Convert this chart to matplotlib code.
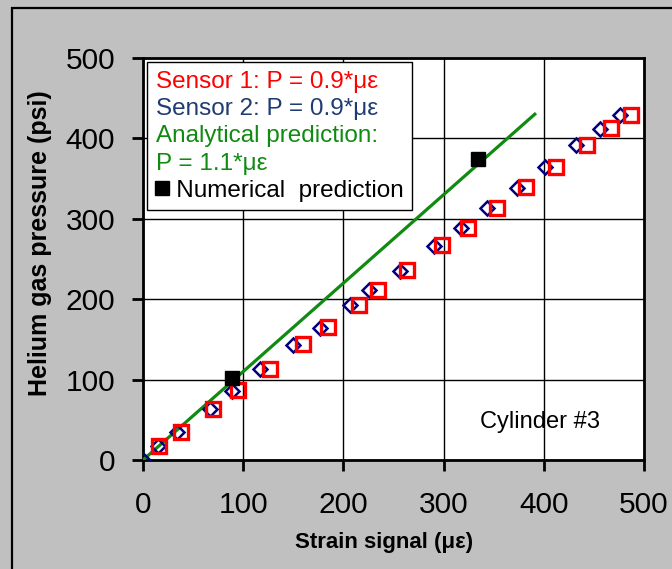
import numpy as np
import matplotlib
matplotlib.use("Agg")
import matplotlib.pyplot as plt
from matplotlib.lines import Line2D
from matplotlib.patches import Rectangle

plt.rcParams['font.family'] = ['Liberation Sans', 'DejaVu Sans']

# sensor 1 (red squares)
s1_strain = [16, 38, 70, 95, 127, 160, 185, 216, 235, 263, 298, 324, 353, 382, 412, 443, 467, 487]
s1_pressure = [18, 35, 64, 87, 113, 144, 165, 193, 211, 236, 267, 289, 314, 339, 365, 392, 413, 429]

# sensor 2 (blue diamonds)
s2_strain = [0, 15, 34, 67, 89, 117, 150, 177, 207, 226, 256, 290, 317, 343, 373, 401, 432, 456, 476]
s2_pressure = [0, 17, 35, 64, 86, 113, 143, 164, 193, 211, 235, 266, 289, 313, 338, 364, 392, 412, 429]

# numerical prediction (black squares)
num_strain = [89, 334]
num_pressure = [102, 375]

# analytical prediction P = 1.1 * strain
ana_strain = np.array([0, 391])
ana_slope = 1.1

legend_labels = ["Sensor 1: P = 0.9*με", "Sensor 2: P = 0.9*με",
                 "Analytical prediction:", "P = 1.1*με", "   Numerical  prediction"]
legend_colors = ["#ff0000", "#1f3c72", "#108a10", "#108a10", "black"]

fig = plt.figure(figsize=(6.72, 5.69), dpi=100, facecolor="#c0c0c0")
ax = fig.add_axes([143/672, 1 - 460/569, 501/672, 402/569])
ax.set_facecolor("white")

ax.plot(ana_strain, ana_slope * ana_strain, color="#108a10", lw=2.3, zorder=3)
ax.plot(s2_strain, s2_pressure, linestyle="none", marker="D", ms=7.5,
        mfc="none", mec="#000080", mew=1.8, zorder=4)
ax.plot(s1_strain, s1_pressure, linestyle="none", marker="s", ms=9.5,
        mfc="none", mec="#ff0000", mew=2.4, zorder=5)
ax.plot(num_strain, num_pressure, linestyle="none", marker="s", ms=10,
        color="black", zorder=6)

ax.set_xlim(0, 500)
ax.set_ylim(0, 500)
ax.set_xticks(range(0, 501, 100))
ax.set_yticks(range(0, 501, 100))
ax.grid(color="black", lw=1.0)
ax.set_axisbelow(True)
for sp in ax.spines.values():
    sp.set_linewidth(2.0)
ax.tick_params(axis="both", direction="out", length=8, width=2, labelsize=21.5)
ax.tick_params(axis="x", pad=14)
ax.tick_params(axis="y", pad=12)

ax.set_xlabel("Strain signal (με)", fontsize=16, fontweight="bold")
ax.set_ylabel("Helium gas pressure (psi)", fontsize=18, fontweight="bold")
ax.xaxis.set_label_coords(0.481, -0.206)
ax.xaxis.label.set_va("center")
ax.yaxis.set_label_coords(-0.206, 0.54)
ax.yaxis.label.set_va("center")

ax.text(396, 47, "Cylinder #3", fontsize=17, ha="center", va="center")

handles = [Line2D([], [], linestyle="none") for _ in range(4)]
handles.append(Line2D([], [], linestyle="none", marker="s", ms=9.5, color="black"))
leg = ax.legend(handles, legend_labels, loc="upper left", bbox_to_anchor=(0.008, 0.99),
                borderaxespad=0, fontsize=17.5, labelcolor=legend_colors,
                handlelength=0.5, handletextpad=-0.5, labelspacing=0.22, borderpad=0.35,
                fancybox=False, framealpha=1, edgecolor="black")
leg.get_frame().set_linewidth(1.0)

fig.add_artist(Rectangle((12/672, -0.1), 1.2, 1 - 8/569 + 0.1, transform=fig.transFigure,
                         fill=False, lw=1.6, edgecolor="black", clip_on=False))

fig.savefig("out.png", dpi=100, facecolor=fig.get_facecolor())
